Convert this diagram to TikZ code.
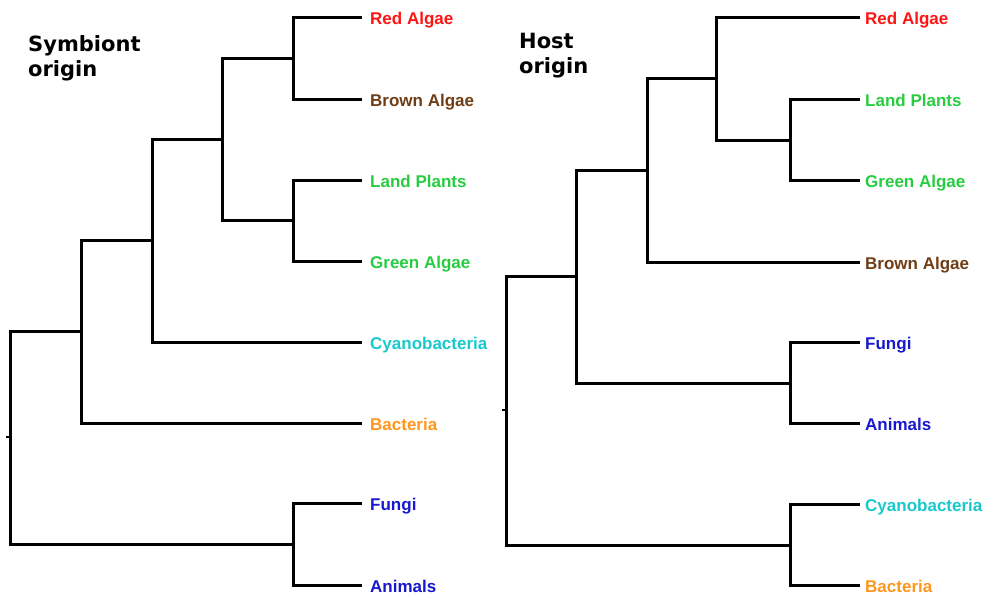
\documentclass[tikz,border=0pt]{standalone}
\usepackage{fontspec}
\setmainfont{Liberation Sans}
\newfontfamily\titlefont{DejaVu Sans}
\definecolor{cred}{RGB}{255,20,20}
\definecolor{cbrown}{RGB}{112,62,22}
\definecolor{cgreen}{RGB}{40,204,64}
\definecolor{ccyan}{RGB}{24,200,204}
\definecolor{corange}{RGB}{255,150,30}
\definecolor{cblue}{RGB}{24,24,204}
\begin{document}
\begin{tikzpicture}[x=1pt,y=-1pt,
  branch/.style={draw=black,line width=3pt,line cap=rect},
  leaf/.style={anchor=west,inner xsep=0pt,inner ysep=0pt,text height=15.5pt,text depth=0pt,font=\fontsize{17}{17}\selectfont\bfseries},
  title/.style={anchor=north west,align=left,inner sep=0pt,font=\titlefont\fontsize{21}{25}\selectfont\bfseries}]
\useasboundingbox (0,0) rectangle (984,592);
% titles
\node[title] (t1) at (28,35) {Symbiont\\origin};
\node[title] (t2) at (519,33) {Host\\origin};
% ---------- left tree ----------
\node[leaf,text=cred]    (lRA) at (370,17)  {Red Algae};
\node[leaf,text=cbrown]  (lBA) at (370,99)  {Brown Algae};
\node[leaf,text=cgreen]  (lLP) at (370,180) {Land Plants};
\node[leaf,text=cgreen]  (lGA) at (370,261) {Green Algae};
\node[leaf,text=ccyan]   (lCY) at (370,342) {Cyanobacteria};
\node[leaf,text=corange] (lBC) at (370,423) {Bacteria};
\node[leaf,text=cblue]   (lFU) at (370,503) {Fungi};
\node[leaf,text=cblue]   (lAN) at (370,585) {Animals};
\coordinate (lRAt) at (360,17);
\coordinate (lBAt) at (360,99);
\coordinate (lLPt) at (360,180);
\coordinate (lGAt) at (360,261);
\coordinate (lCYt) at (360,342);
\coordinate (lBCt) at (360,423);
\coordinate (lFUt) at (360,503);
\coordinate (lANt) at (360,585);
\coordinate (L1) at (293,58);
\coordinate (L2) at (293,220);
\coordinate (L3) at (222,139);
\coordinate (L4) at (152,240);
\coordinate (L5) at (81,331);
\coordinate (L6) at (293,544);
\coordinate (L7) at (10,437);
\coordinate (L7s) at (6,437);
\path[branch] (L1) |- (lRAt);
\path[branch] (L1) |- (lBAt);
\path[branch] (L2) |- (lLPt);
\path[branch] (L2) |- (lGAt);
\path[branch] (L3) |- (L1);
\path[branch] (L3) |- (L2);
\path[branch] (L4) |- (L3);
\path[branch] (L4) |- (lCYt);
\path[branch] (L5) |- (L4);
\path[branch] (L5) |- (lBCt);
\path[branch] (L6) |- (lFUt);
\path[branch] (L6) |- (lANt);
\path[branch] (L7) |- (L5);
\path[branch] (L7) |- (L6);
\draw[line width=2pt] (L7s) -- (L7);
% ---------- right tree ----------
\node[leaf,text=cred]    (rRA) at (865,17)  {Red Algae};
\node[leaf,text=cgreen]  (rLP) at (865,99)  {Land Plants};
\node[leaf,text=cgreen]  (rGA) at (865,180) {Green Algae};
\node[leaf,text=cbrown]  (rBA) at (865,262) {Brown Algae};
\node[leaf,text=cblue]   (rFU) at (865,342) {Fungi};
\node[leaf,text=cblue]   (rAN) at (865,423) {Animals};
\node[leaf,text=ccyan]   (rCY) at (865,504) {Cyanobacteria};
\node[leaf,text=corange] (rBC) at (865,585) {Bacteria};
\coordinate (rRAt) at (858,17);
\coordinate (rLPt) at (858,99);
\coordinate (rGAt) at (858,180);
\coordinate (rBAt) at (858,262);
\coordinate (rFUt) at (858,342);
\coordinate (rANt) at (858,423);
\coordinate (rCYt) at (858,504);
\coordinate (rBCt) at (858,585);
\coordinate (R1) at (790,140);
\coordinate (R2) at (716,78);
\coordinate (R3) at (647,170);
\coordinate (R4) at (790,383);
\coordinate (R5) at (576,276);
\coordinate (R6) at (790,545);
\coordinate (R7) at (506,410);
\coordinate (R7s) at (502,410);
\path[branch] (R1) |- (rLPt);
\path[branch] (R1) |- (rGAt);
\path[branch] (R2) |- (rRAt);
\path[branch] (R2) |- (R1);
\path[branch] (R3) |- (R2);
\path[branch] (R3) |- (rBAt);
\path[branch] (R4) |- (rFUt);
\path[branch] (R4) |- (rANt);
\path[branch] (R5) |- (R3);
\path[branch] (R5) |- (R4);
\path[branch] (R6) |- (rCYt);
\path[branch] (R6) |- (rBCt);
\path[branch] (R7) |- (R5);
\path[branch] (R7) |- (R6);
\draw[line width=2pt] (R7s) -- (R7);
\end{tikzpicture}
\end{document}
